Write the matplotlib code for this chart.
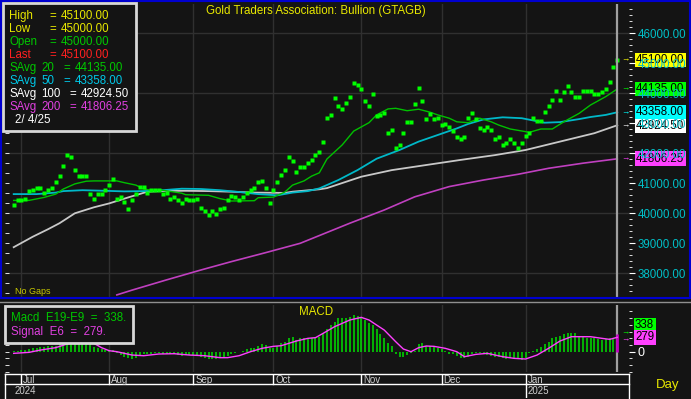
import matplotlib
matplotlib.use("Agg")
import matplotlib.pyplot as plt
from matplotlib.patches import Rectangle
from matplotlib.lines import Line2D
from matplotlib.ticker import MultipleLocator, FixedLocator, FuncFormatter
from matplotlib.transforms import blended_transform_factory
import pandas as pd

plt.rcParams['font.family'] = ['Liberation Sans', 'DejaVu Sans']

# daily closes, Jun 27 2024 .. Feb 4 2025 (weekdays)
dates = pd.bdate_range("2024-06-27", "2025-02-04")
closes = [
    40260, 40420, 40420, 40460, 40730, 40760, 40820, 40820, 40670, 40760,
    40820, 41030, 41220, 41560, 41930, 41860, 41420, 41220, 41220, 41220,
    40620, 40460, 40620, 40620, 40760, 40930, 41130, 40470, 40520, 40360,
    40120, 40420, 40630, 40870, 40860, 40670, 40760, 40770, 40760, 40630,
    40670, 40470, 40520, 40420, 40320, 40460, 40420, 40420, 40460, 40170,
    40060, 39930, 40060, 39960, 40130, 40170, 40420, 40560, 40530, 40440,
    40520, 40660, 40770, 40820, 41020, 41060, 40830, 40320, 40770, 41020,
    41260, 41430, 41870, 41730, 41370, 41520, 41520, 41670, 41770, 41920,
    42030, 42370, 43170, 43270, 43830, 43580, 43470, 43670, 43870, 44330,
    44270, 44130, 43730, 43570, 43970, 43230, 43280, 43330, 42670, 42770,
    42170, 42270, 42670, 43030, 43030, 43630, 44180, 43730, 43130, 43300,
    43130, 43180, 42930, 42970, 42870, 42730, 42530, 42470, 42530, 43170,
    43330, 43130, 42830, 42770, 42870, 42770, 42470, 42530, 42270, 42330,
    42470, 42330, 42170, 42330, 42570, 42670, 43170, 43070, 43070, 43370,
    43570, 43770, 44070, 43770, 44030, 44230, 44030, 43870, 43870, 44070,
    44070, 44070, 43970, 43970, 44030, 44130, 44370, 44870, 45100,
]
last_high, last_low, last_open = 45100.00, 45000.00, 45000.00

# moving averages, read at sample days (index into dates)
ma20_days = [0, 4, 8, 11, 13, 16, 19, 21, 24, 27, 29, 32, 34, 36, 39, 44, 45, 51, 54, 57,
             63, 64, 68, 71, 73, 76, 78, 80, 82, 86, 89, 93, 95, 98, 100, 103, 106, 109, 111, 114,
             116, 119, 122, 125, 127, 130, 135, 138, 141, 144, 148, 151, 155, 158]
ma20 = [40420, 40420, 40520, 40630, 40800, 40970, 41060, 41070, 41070, 41070,
        41010, 40930, 40800, 40760, 40760, 40660, 40610, 40590, 40480, 40400,
        40410, 40510, 40530, 40700, 40930, 41070, 41230, 41340, 41800, 42270,
        42730, 43010, 43270, 43470, 43490, 43410, 43460, 43360, 43270, 43160,
        43040, 43010, 43160, 43040, 42930, 42800, 42690, 42800, 42800, 43040,
        43320, 43600, 43880, 44135.00]
ma50_days = [0, 6, 11, 13, 18, 24, 29, 34, 39, 44, 49, 54, 59, 64, 69, 73, 77, 80, 85, 90,
             95, 101, 106, 111, 116, 119, 123, 128, 133, 139, 143, 148, 151, 155, 158]
ma50 = [40630, 40630, 40680, 40730, 40760, 40740, 40720, 40730, 40760, 40810,
        40800, 40760, 40700, 40630, 40590, 40680, 40730, 40820, 41100, 41430,
        41810, 42100, 42380, 42600, 42820, 42970, 43120, 43190, 43160, 43010,
        43030, 43130, 43200, 43270, 43358.00]
ma100_days = [0, 5, 9, 12, 16, 21, 25, 30, 35, 40, 45, 51, 57, 63, 71, 73, 80, 82, 91, 99,
              108, 117, 126, 134, 143, 152, 158]
ma100 = [38860, 39210, 39460, 39660, 39990, 40190, 40320, 40520, 40710, 40740,
         40740, 40730, 40710, 40680, 40670, 40710, 40790, 40830, 41210, 41430,
         41600, 41770, 41930, 42100, 42380, 42660, 42924.50]
ma200_days = [27, 31, 40, 49, 57, 66, 75, 88, 97, 105, 114, 123, 132, 140, 149, 158]
ma200 = [37270, 37430, 37770, 38100, 38380, 38680, 38990, 39660, 40100, 40540,
         40880, 41100, 41290, 41490, 41660, 41806.25]

# MACD (E19-E9) per day, signal (E6) at sample days
macd = [
    19, 19, 32, 32, 52, 65, 78, 91, 91, 104, 104, 116, 142,
    190, 250, 290, 285, 265, 240, 210, 175,
    100, 65, 45, 26, 32, 39, -32, -65, -97, -129,
    -142, -116, -78, -52, -52, -39, -32, -32, -39, -39,
    -52, -52, -65, -78, -65, -65, -65, -65, -97, -116,
    -142, -142, -149, -129, -116, -78, -39, -19, -13, 13,
    45, 65, 78, 116, 142, 129, 65, 78, 116, 162,
    194, 259, 285, 233, 259, 259, 259, 272, 265, 278,
    356, 440, 518, 569, 647, 647, 660, 673, 712, 699,
    680, 615, 550, 518, 440, 336, 259, 175, 116, -52,
    -97, -97, -65, -32, 10, 142, 175, 116, 110, 84,
    65, 45, 13, -39, -52, -78, -116, -129, -97, -39,
    -19, -19, -52, -65, -78, -97, -110, -129, -142, -129,
    -129, -149, -162, -116, -32, 5, 52, 97, 142, 194,
    259, 291, 310, 336, 356, 362, 356, 310, 291, 272,
    272, 259, 246, 233, 239, 259, 272, 338,
]
sig_days = [0, 4, 7, 11, 14, 17, 19, 21, 23, 25, 27, 31, 34, 38, 42, 46, 50, 54, 56, 59,
            62, 65, 68, 70, 74, 77, 79, 81, 84, 88, 91, 93, 97, 100, 102, 104, 106, 108, 110, 113,
            116, 118, 121, 124, 128, 131, 134, 137, 140, 143, 146, 149, 151, 154, 156, 158]
signal = [-32, -13, 32, 78, 150, 200, 190, 162, 78, 19, 0, -65, -78, -45, -39, -65, -78, -116, -116, -78,
          0, 65, 104, 116, 207, 259, 272, 356, 485, 615, 666, 615, 420, 194, 52, 0, 78, 110, 104, 65,
          0, -97, -52, -32, -97, -129, -142, -65, 65, 207, 291, 291, 291, 259, 239, 279]

BG = "#141414"
GRID = "#303030"
YELLOW = "#e8e800"
GREEN_DOT = "#00ff00"
GREEN = "#00c000"
CYAN = "#00b8c8"
GREYL = "#c8c8c8"
MAGENTA = "#c040c0"
AXCYAN = "#00c0c8"

W, H = 691, 399


def fx(px):
    return px / W


def fy(py):
    return 1 - py / H


x = list(range(len(dates)))
xlim = ((5 - 13.7) / 3.82, (629 - 13.7) / 3.82)
last = len(dates) - 1
# month boundaries (the last, barely started month gets no tick)
month_starts = [i for i in range(1, len(dates))
                if dates[i].month != dates[i - 1].month and i < last - 5]

fig = plt.figure(figsize=(6.91, 3.99), dpi=100)
fig.patch.set_facecolor(BG)

# ---- price panel
ax = fig.add_axes([fx(5), fy(297), fx(629) - fx(5), fy(4) - fy(297)])
ax.set_facecolor(BG)
ax.set_xlim(xlim)
ax.set_ylim(37200, 46967)
for s in ax.spines.values():
    s.set_visible(False)
ax.set_xticks([])
ax.yaxis.set_minor_locator(MultipleLocator(1000 / 3))
ax.yaxis.set_major_locator(FixedLocator([]))
ax.tick_params(axis="y", which="minor", direction="in", length=3, color="white", left=True)
for v in range(38000, 46001, 2000):
    ax.axhline(v, color=GRID, lw=1, zorder=0)
for m in month_starts:
    ax.axvline(m, color=GRID, lw=1, zorder=0)

ax.plot(ma200_days, ma200, color=MAGENTA, lw=1.2, zorder=2)
ax.plot(ma100_days, ma100, color=GREYL, lw=1.3, zorder=2)
ax.plot(ma50_days, ma50, color=CYAN, lw=1.3, zorder=2)
ax.plot(ma20_days, ma20, color=GREEN, lw=1.0, zorder=3)
ax.plot(x, closes, ls="none", marker="s", ms=3.0, mec="none", mfc=GREEN_DOT, zorder=4)
ax.axvline(last, color="#a0a0a0", lw=1.6, zorder=5)

axr = ax.twinx()
axr.set_ylim(ax.get_ylim())
for s in axr.spines.values():
    s.set_visible(False)
axr.yaxis.set_major_locator(MultipleLocator(1000))
axr.yaxis.set_minor_locator(MultipleLocator(200))
axr.yaxis.set_major_formatter(FuncFormatter(lambda v, p: f"{v:.2f}"))
axr.tick_params(axis="y", which="major", length=4, color="white", labelcolor=AXCYAN,
                labelsize=8.3, pad=2)
axr.tick_params(axis="y", which="minor", length=2.5, color="white")

tr = blended_transform_factory(fig.transFigure, ax.transData)
boxes = [(closes[-1], "#ffff00", 0), (ma20[-1], "#00ff00", 0), (ma50[-1], "#00ffff", 0),
         (ma100[-1], "#ffffff", -25), (ma200[-1], "#ff40ff", 0)]
for val, col, nudge in boxes:
    ax.text(fx(636), val + nudge, f"{val:.2f}", transform=tr, fontsize=8.3, color="black",
            va="center", ha="left", clip_on=False, zorder=20,
            bbox=dict(boxstyle="square,pad=0.12", fc=col, ec="none"))
    ax.text(fx(621), val, "→", transform=tr, fontsize=6, color=col,
            va="center", ha="left", clip_on=False, zorder=20)

# ---- MACD panel
ax2 = fig.add_axes([fx(5), fy(372), fx(629) - fx(5), fy(305) - fy(372)])
ax2.set_facecolor(BG)
ax2.set_xlim(xlim)
ax2.set_ylim(-394, 906)
for s in ax2.spines.values():
    s.set_visible(False)
ax2.set_xticks([])
ax2.yaxis.set_major_locator(FixedLocator([]))
ax2.yaxis.set_minor_locator(MultipleLocator(130))
ax2.tick_params(axis="y", which="minor", direction="in", length=3, color="white", left=True)
for m in month_starts:
    ax2.axvline(m, color=GRID, lw=1, zorder=0)
ax2.vlines(x[:-1], 0, macd[:-1], colors="#00e000", lw=1.1, zorder=2)
ax2.vlines([x[-1]], 0, [macd[-1]], colors="#c000c0", lw=2.0, zorder=2)
ax2.plot(sig_days, signal, color="#ff40ff", lw=1.0, zorder=3)
ax2.axvline(last, color="#a0a0a0", lw=1.6, zorder=1)

ax2r = ax2.twinx()
ax2r.set_ylim(ax2.get_ylim())
for s in ax2r.spines.values():
    s.set_visible(False)
ax2r.yaxis.set_major_locator(FixedLocator([0]))
ax2r.yaxis.set_minor_locator(MultipleLocator(130))
ax2r.set_yticklabels(["0"])
ax2r.tick_params(axis="y", which="major", length=4, color="white", labelcolor="white",
                 labelsize=9, pad=2)
ax2r.tick_params(axis="y", which="minor", length=2.5, color="white")

tr2 = blended_transform_factory(fig.transFigure, ax2.transData)
ax2.text(fx(635), macd[-1] + 180, f"{macd[-1]}", transform=tr2, fontsize=8.3, color="black",
         va="center", clip_on=False, zorder=20,
         bbox=dict(boxstyle="square,pad=0.12", fc="#00ff00", ec="none"))
ax2.text(fx(635), signal[-1], f"{signal[-1]}", transform=tr2, fontsize=8.3, color="black",
         va="center", clip_on=False, zorder=20,
         bbox=dict(boxstyle="square,pad=0.12", fc="#ff40ff", ec="none"))
ax2.text(fx(621), macd[-1] + 20, "→", transform=tr2, fontsize=6, color="#00ff00",
         va="center", clip_on=False, zorder=20)
ax2.text(fx(621), signal[-1] - 40, "→", transform=tr2, fontsize=6, color="#ff40ff",
         va="center", clip_on=False, zorder=20)

# ---- date axis
ax3 = fig.add_axes([fx(5), fy(398), fx(629) - fx(5), fy(374) - fy(398)])
ax3.set_facecolor(BG)
ax3.set_xlim(xlim)
ax3.set_ylim(0, 1)
ax3.axis("off")
mid = (398 - 384) / 24
ax3.add_line(Line2D(xlim, [1, 1], color="white", lw=1, clip_on=False))
ax3.add_line(Line2D(xlim, [mid, mid], color="white", lw=1, clip_on=False))
ax3.add_line(Line2D([xlim[0]] * 2, [0, 1], color="white", lw=1, clip_on=False))
ax3.add_line(Line2D([xlim[1]] * 2, [0, 1], color="white", lw=1, clip_on=False))
for m in month_starts:
    ax3.add_line(Line2D([m, m], [mid, 1], color="white", lw=1))
    ax3.text(m + 0.5, (1 + mid) / 2 - 0.05, dates[m].strftime("%b"), fontsize=7,
             color="#d0d0d0", va="center", ha="left")
    if dates[m].month == 1:
        ax3.add_line(Line2D([m, m], [0, mid], color="white", lw=1))
        ax3.text(m + 0.5, mid / 2, str(dates[m].year), fontsize=7,
                 color="#d0d0d0", va="center", ha="left")
ax3.text(0.3, mid / 2, str(dates[0].year), fontsize=7, color="#d0d0d0",
         va="center", ha="left")

# ---- frames, legends and labels
fig.add_artist(Rectangle((fx(0.8), fy(297.5)), fx(689.5) - fx(0.8), fy(0.8) - fy(297.5),
                         transform=fig.transFigure, fill=False, ec="#0000d0", lw=1.5))
fig.add_artist(Line2D([0, 1], [fy(302), fy(302)], transform=fig.transFigure,
                      color="#909090", lw=1))

fig.text(fx(316), fy(11), "Gold Traders Association: Bullion (GTAGB)", ha="center",
         va="center", color=YELLOW, fontsize=8.3)
fig.text(fx(15), fy(292), "No Gaps", color="#c8c800", fontsize=6.5, va="center")
fig.text(fx(316), fy(312), "MACD", ha="center", va="center", color=YELLOW, fontsize=8.3)
fig.text(fx(668), fy(385), "Day", ha="center", va="center", color=YELLOW, fontsize=9.5)

fig.add_artist(Rectangle((fx(2.5), fy(131)), fx(136) - fx(2.5), fy(3) - fy(131),
                         transform=fig.transFigure, fc=BG, ec="#d8d8d8", lw=2, zorder=10))
rows = [
    ("High", None, "=", last_high, YELLOW),
    ("Low", None, "=", last_low, YELLOW),
    ("Open", None, "=", last_open, "#00c800"),
    ("Last", None, "=", closes[-1], "#ff2020"),
    ("SAvg", "20", "=", ma20[-1], "#00c800"),
    ("SAvg", "50", "=", ma50[-1], "#00c8e8"),
    ("SAvg", "100", "=", ma100[-1], "#ffffff"),
    ("SAvg", "200", "=", ma200[-1], "#e040e0"),
]
for k, (lab, n, eq, val, col) in enumerate(rows):
    yy = fy(16 + 13.05 * k)
    fig.text(fx(9), yy, lab, color=col, fontsize=8.3, va="center", zorder=11)
    if n is None:
        fig.text(fx(49), yy, eq, color=col, fontsize=8.3, va="center", zorder=11)
        fig.text(fx(61), yy, f"{val:.2f}", color=col, fontsize=8.3, va="center", zorder=11)
    else:
        off = 0 if len(n) == 2 else 6
        fig.text(fx(41), yy, n, color=col, fontsize=8.3, va="center", zorder=11)
        fig.text(fx(63 + off), yy, eq, color=col, fontsize=8.3, va="center", zorder=11)
        fig.text(fx(75 + off), yy, f"{val:.2f}", color=col, fontsize=8.3, va="center", zorder=11)
fig.text(fx(15), fy(120), dates[-1].strftime("%-m/ %-d/%y"), color="white", fontsize=8.3,
         va="center", zorder=11)

fig.add_artist(Rectangle((fx(4.5), fy(343)), fx(133) - fx(4.5), fy(305.5) - fy(343),
                         transform=fig.transFigure, fc=BG, ec="#d8d8d8", lw=2, zorder=10))
fig.text(fx(11), fy(318), f"Macd  E19-E9  =  {macd[-1]}.", color="#00c800", fontsize=8.3,
         va="center", zorder=11)
fig.text(fx(11), fy(332), f"Signal  E6  =  {signal[-1]}.", color="#e040e0", fontsize=8.3,
         va="center", zorder=11)

fig.savefig("out.png", dpi=100, facecolor=BG)
